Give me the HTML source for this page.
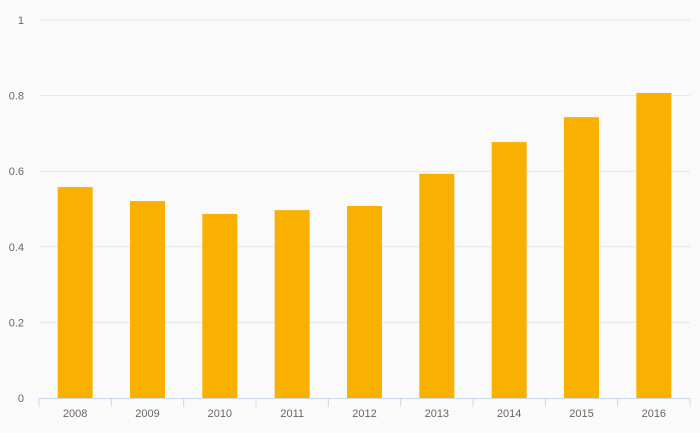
<!DOCTYPE html>
<html><head><meta charset="utf-8"><style>
html,body{margin:0;padding:0;background:#fafafa;}
svg{display:block;font-family:"Liberation Sans",sans-serif;}
</style></head><body>
<svg id="chart" width="700" height="433" viewBox="0 0 700 433">
<rect width="700" height="433" fill="#fafafa"/>
<g id="grid"></g><g id="bars"></g><g id="xaxis"></g><g id="yaxis"></g>
</svg>
<script>
const categories = ["2008","2009","2010","2011","2012","2013","2014","2015","2016"];
const values = [0.558,0.521,0.487,0.497,0.508,0.593,0.677,0.743,0.807];
const yTicks = [0,0.2,0.4,0.6,0.8,1];
const yTickLabels = ["0","0.2","0.4","0.6","0.8","1"];

const NS="http://www.w3.org/2000/svg";
const plotLeft=39,plotRight=690,plotTop=20,plotBottom=398;
const yScale=v=>plotBottom-(v-0)/(1-0)*(plotBottom-plotTop);
const band=(plotRight-plotLeft)/categories.length;
const xScale=i=>plotLeft+band*i;
const barW=35;
function mk(tag,attrs,parent){const e=document.createElementNS(NS,tag);for(const k in attrs)e.setAttribute(k,attrs[k]);parent.appendChild(e);return e;}
const grid=document.getElementById('grid'),bars=document.getElementById('bars'),xa=document.getElementById('xaxis'),ya=document.getElementById('yaxis');
yTicks.forEach((t,i)=>{
  if(i>0){const l=mk('line',{x1:plotLeft,x2:plotRight,y1:yScale(t),y2:yScale(t),stroke:'#e6e6e6','stroke-width':1},grid);
  
  }
  const tx=mk('text',{x:24,y:yScale(t)+4,'text-anchor':'end','font-size':11,fill:'#666'},ya);
  tx.textContent=yTickLabels[i];
  
  
});
values.forEach((v,i)=>{
  const cx=xScale(i)+band/2;
  const r=mk('rect',{x:cx-barW/2,y:yScale(v),width:barW,height:plotBottom-yScale(v),fill:'#f9b000'},bars);
  
  
  const tx=mk('text',{x:cx,y:417,'text-anchor':'middle','font-size':11,fill:'#666'},xa);
  tx.textContent=categories[i];
  
  
});
for(let i=0;i<=categories.length;i++){
  const t=mk('line',{x1:xScale(i),x2:xScale(i),y1:plotBottom,y2:plotBottom+9,stroke:'#ccd6eb','stroke-width':1},xa);
  
  
}
const ax=mk('line',{x1:plotLeft,x2:plotRight,y1:plotBottom+0.5,y2:plotBottom+0.5,stroke:'#ccd6eb','stroke-width':1},xa);


</script>
</body></html>
